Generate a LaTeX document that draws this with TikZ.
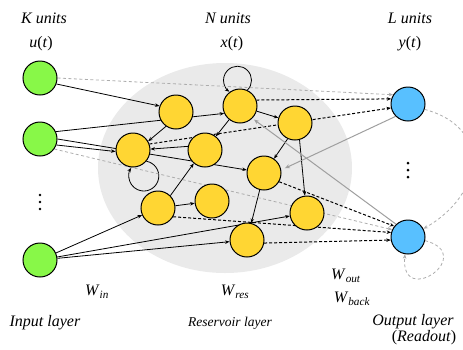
\documentclass[tikz,border=0pt]{standalone}
\usepackage{fontspec}
\setmainfont{Liberation Serif}
\usetikzlibrary{arrows.meta}
\pgfdeclarelayer{bg}
\pgfdeclarelayer{links}
\pgfsetlayers{bg,links,main}
\definecolor{ingreen}{RGB}{136,248,72}
\definecolor{resyellow}{RGB}{255,214,51}
\definecolor{outblue}{RGB}{88,192,255}
\definecolor{poolgray}{RGB}{234,234,234}
\tikzset{
  unit/.style={circle, draw=black, line width=1pt, minimum size=34pt, inner sep=0pt},
  inunit/.style={unit, fill=ingreen},
  resunit/.style={unit, fill=resyellow},
  outunit/.style={unit, fill=outblue},
  wire/.style={line width=0.8pt, -{Stealth[length=4.5pt,width=3.5pt]}},
  readout/.style={wire, line width=1pt, dash pattern=on 3pt off 2pt},
  bypass/.style={line width=0.8pt, gray!65, dash pattern=on 3pt off 2.5pt, -{Stealth[length=4.5pt,width=3.5pt]}},
  backwire/.style={line width=1pt, gray!75, -{Stealth[length=5pt,width=4pt]}},
  lbl/.style={font=\fontsize{16}{19}\selectfont, inner sep=0pt},
  smalllbl/.style={font=\fontsize{13.5}{16}\selectfont, inner sep=0pt},
}

\begin{document}
\begin{tikzpicture}[x=1pt, y=1pt]
		\useasboundingbox (0,0) rectangle (463,-349);
		%%%%% reservoir pool %%%%%
		\begin{pgfonlayer}{bg}
		\fill[poolgray] (225,-168) ellipse [x radius=127pt, y radius=105pt];
		\end{pgfonlayer}
		
		%%%%% units %%%%%
		\node[inunit] (I1) at (40,-78) {};
		\node[inunit] (I2) at (40,-139) {};
		\node[inunit] (I3) at (40,-260) {};
		\foreach \y in {195,202,209}
			\fill (40,-\y) circle (1.4pt);
		
		\node[resunit] (R1) at (176,-112) {};
		\node[resunit] (R2) at (240,-106) {};
		\node[resunit] (R3) at (295,-123) {};
		\node[resunit] (R4) at (133,-150) {};
		\node[resunit] (R5) at (205,-150) {};
		\node[resunit] (R6) at (264,-173) {};
		\node[resunit] (R7) at (158,-208) {};
		\node[resunit] (R8) at (212,-201) {};
		\node[resunit] (R9) at (307,-213) {};
		\node[resunit] (R10) at (247,-240) {};
		
		\node[outunit] (O1) at (408,-104) {};
		\node[outunit] (O2) at (408,-237) {};
		\foreach \y in {163,170,177}
			\fill (408,-\y) circle (1.5pt);
		
		%%%%% connections %%%%%
		\begin{pgfonlayer}{links}
		% input weights
		\draw[wire] (I1.-20) -- (R1.160);
		\draw[wire] (I2.25) -- (R2.205);
		\draw[wire] (I2.-20) -- (R4.185);
		\draw[wire] (I2.0) -- (R6.170);
		\draw[wire] (I3) -- (R7);
		\draw[wire] (I3) -- (R9);
		\draw[wire] (I3) -- (R10);
		% recurrent weights
		\draw[wire] (R1.235) -- (R4.30);
		\draw[wire] (R2) -- (R3);
		\draw[wire] (R2) -- (R5);
		\draw[wire] (R5.168) -- (R4.3);
		\draw[wire] (R3.245) -- (R6.55);
		\draw[wire] (R3.-75) -- (R9.97);
		\draw[wire] (R6) -- (R10);
		\draw[wire] (R7.45) -- (R5.230);
		\draw[wire] (R7) -- (R8);
		\draw[wire] (R2.65) arc[start angle=-45, end angle=235, radius=14pt];
		\draw[wire] (R4.-40) arc[start angle=80, end angle=-213, radius=15pt];
		% readout
		\draw[bypass] (I1.0) -- (O1.148);
		\draw[readout] (R2.20) -- (O1.163);
		\draw[readout] (R4.20) -- (O1.193);
		\draw[readout] (R6.-30) -- (O2.142);
		\draw[bypass] (I2.-35) -- (O2.155);
		\draw[readout] (R7.-30) -- (O2.165);
		\draw[readout] (R10.-10) -- (O2.190);
		% feedback
		\draw[backwire, shorten >=4pt] (O1.225) -- (R6.10);
		\draw[backwire, shorten >=2pt] (O2.133) -- (R2.-45);
		\draw[bypass] (O1.-18) to[out=-15, in=30, looseness=1.5] (O2.28);
		\draw[bypass] (O2.-12) .. controls +(-15:55) and +(-95:55) .. (O2.-100);
		\end{pgfonlayer}
		
		%%%%% labels %%%%%
		\node[lbl] (kunits) at (44,-18) {\textit{K units}};
		\node[lbl] (nunits) at (228,-18) {\textit{N units}};
		\node[lbl] (lunits) at (410,-18) {\textit{L units}};
		\node[lbl] (ut) at (41,-44) {\textit{u}(\textit{t})};
		\node[lbl] (xt) at (232,-44) {\textit{x}(\textit{t})};
		\node[lbl] (yt) at (410,-44) {\textit{y}(\textit{t})};
		\node[lbl] (win) at (97,-292) {\textit{W}\textsubscript{\textit{in}}};
		\node[lbl] (wres) at (235,-292) {\textit{W}\textsubscript{\textit{res}}};
		\node[lbl] (wout) at (346,-276) {\textit{W}\textsubscript{\textit{out}}};
		\node[lbl] (wback) at (352,-299) {\textit{W}\textsubscript{\textit{back}}};
		\node[lbl] (inlayer) at (45,-323) {\textit{Input layer}};
		\node[smalllbl] (reslayer) at (230,-323) {\textit{Reservoir layer}};
		\node[lbl] (outlayer) at (413,-322) {\textit{Output layer}};
		\node[lbl] (readout) at (424,-338) {(\textit{Readout})};
	\end{tikzpicture}
\end{document}
